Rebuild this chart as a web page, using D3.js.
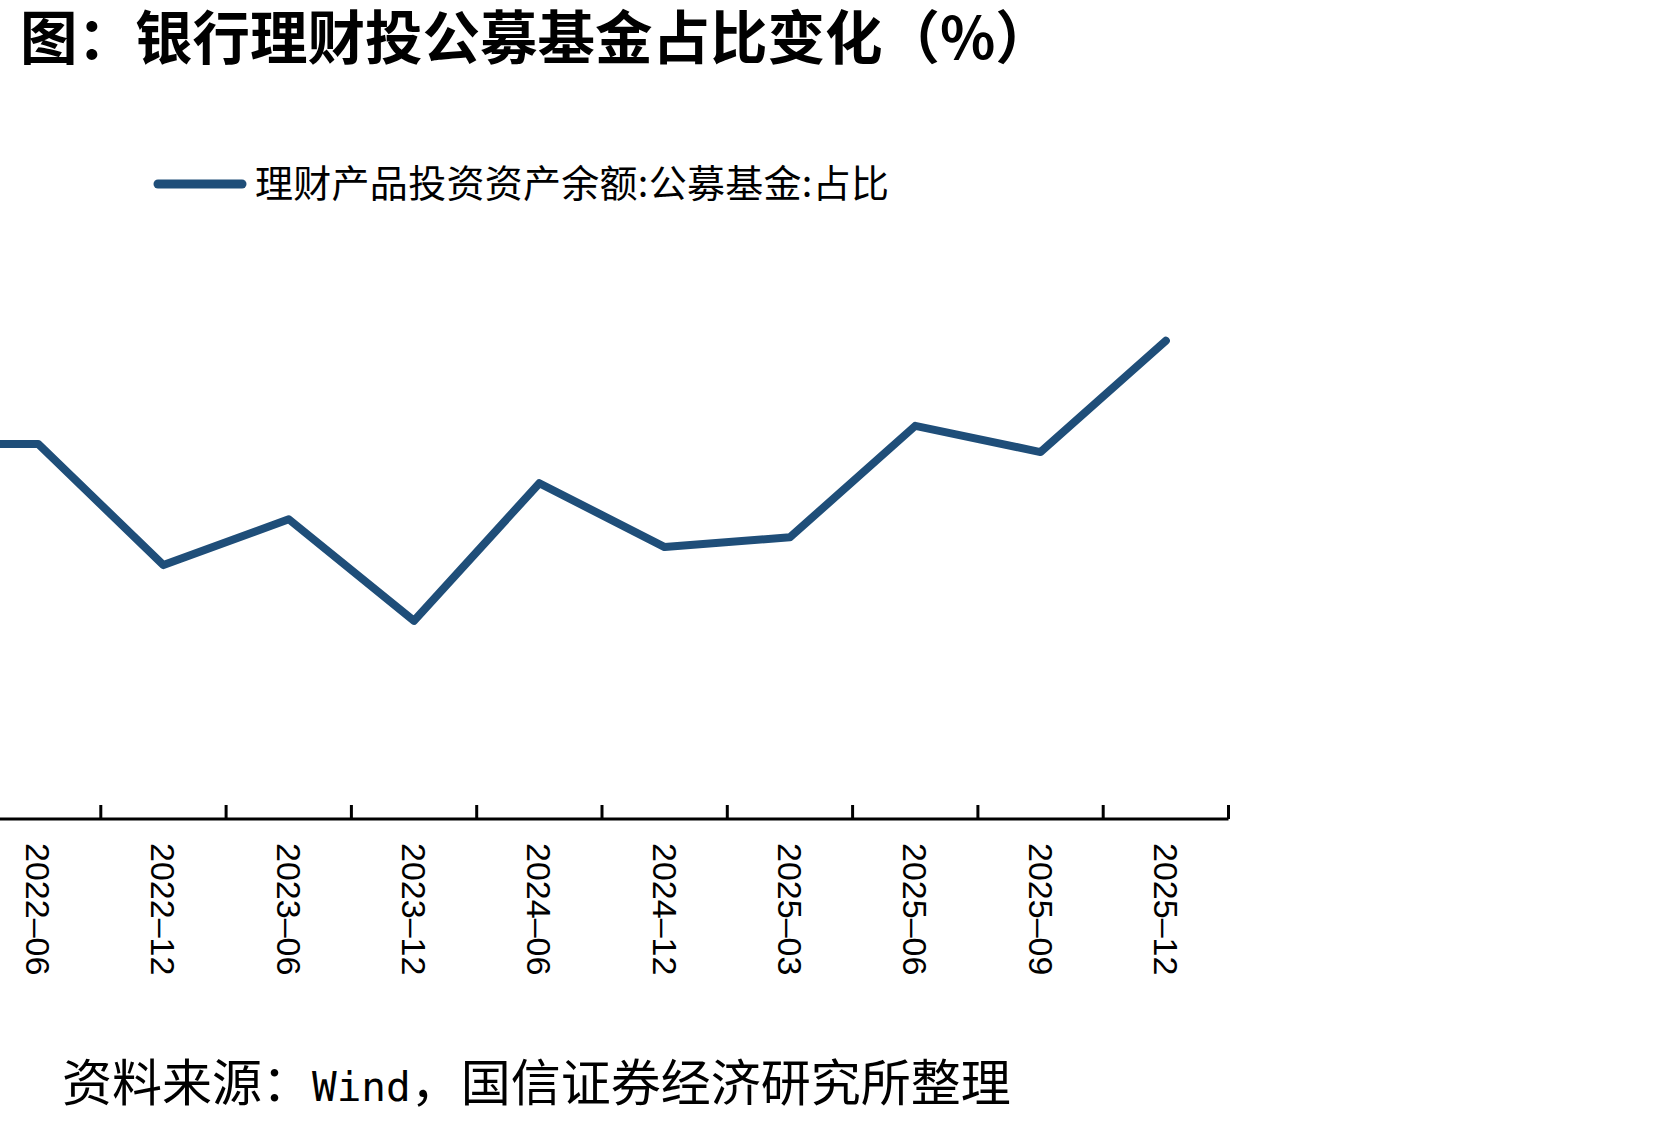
<!DOCTYPE html>
<html>
<head>
<meta charset="utf-8">
<script src="https://cdn.jsdelivr.net/npm/d3@7"></script>
<style>
  html, body { margin: 0; padding: 0; background: #fff; }
  svg { display: block; }
</style>
</head>
<body>
<div id="chart"></div>
<script>
// categories (the first one sits off the left edge, as in the source image)
const categories = ['2021-12', '2022-06', '2022-12', '2023-06', '2023-12', '2024-06',
  '2024-12', '2025-03', '2025-06', '2025-09', '2025-12'];
// 理财产品投资资产余额:公募基金:占比 (%)
const shareValues = [4.29, 4.29, 3.55, 3.83, 3.21, 4.05, 3.66, 3.72, 4.40, 4.24, 4.92];
const hiddenLabels = ['2021-12'];

const titleText = '图：银行理财投公募基金占比变化（%）';
const legendText = '理财产品投资资产余额:公募基金:占比';

const width = 1660;
const height = 1121;
const lineColor = '#1f4e79';

const svg = d3.select('#chart')
  .append('svg')
  .attr('width', width)
  .attr('height', height);

// title
svg.append('text')
  .attr('x', 20)
  .attr('y', 59)
  .style('font-family', '"Noto Sans CJK SC", sans-serif')
  .style('font-weight', 700)
  .style('font-size', '57.5px')
  .style('fill', '#000')
  .text(titleText);

// scales
const step = 125.3;
const axisRight = 1228.5;
const axisY = 819;

const x = d3.scaleBand()
  .domain(categories)
  .range([axisRight - categories.length * step, axisRight])
  .paddingInner(0)
  .paddingOuter(0);

const y = d3.scaleLinear()
  .domain([2, 5])
  .range([axisY, axisY - 3 * 163.8]);

const cx = (d) => x(d) + x.bandwidth() / 2;

// x axis line
svg.append('line')
  .attr('x1', 0)
  .attr('x2', axisRight)
  .attr('y1', axisY)
  .attr('y2', axisY)
  .style('stroke', '#000')
  .style('stroke-width', 3);

// tick marks between categories
const boundaries = categories.map((d) => x(d) + x.bandwidth()).filter((v) => v >= 0);
svg.selectAll('.tick-mark')
  .data(boundaries)
  .enter()
  .append('line')
  .attr('class', 'tick-mark')
  .attr('x1', (d) => d)
  .attr('x2', (d) => d)
  .attr('y1', axisY)
  .attr('y2', axisY - 14)
  .style('stroke', '#000')
  .style('stroke-width', 3);

// tick labels, rotated
svg.selectAll('.tick-label')
  .data(categories.filter((d) => !hiddenLabels.includes(d)))
  .enter()
  .append('text')
  .attr('class', 'tick-label')
  .attr('transform', (d) => `translate(${cx(d)},${axisY + 24}) rotate(90)`)
  .attr('dominant-baseline', 'central')
  .style('text-anchor', 'start')
  .style('font-family', '"Liberation Sans", Arial, sans-serif')
  .style('font-size', '34px')
  .style('fill', '#000')
  .text((d) => d.replace('-', '\u2013'));

// the series line
const line = d3.line()
  .x((d, i) => cx(categories[i]))
  .y((d) => y(d));

svg.append('path')
  .datum(shareValues)
  .attr('d', line)
  .style('fill', 'none')
  .style('stroke', lineColor)
  .style('stroke-width', 8)
  .style('stroke-linejoin', 'round')
  .style('stroke-linecap', 'round');

// legend
const legend = svg.append('g').attr('transform', 'translate(158,184)');
legend.append('line')
  .attr('x1', 0)
  .attr('x2', 84)
  .style('stroke', lineColor)
  .style('stroke-width', 9)
  .style('stroke-linecap', 'round');
legend.append('text')
  .attr('x', 97)
  .attr('y', 13)
  .attr('textLength', 634)
  .attr('lengthAdjust', 'spacing')
  .style('font-family', '"Noto Sans CJK SC", sans-serif')
  .style('font-size', '38px')
  .style('fill', '#000')
  .text(legendText);

// source note
const source = svg.append('text')
  .attr('x', 62)
  .attr('y', 1101)
  .style('font-family', '"Noto Sans CJK SC", sans-serif')
  .style('font-size', '50px')
  .style('fill', '#000');
source.append('tspan').text('资料来源：');
source.append('tspan')
  .style('font-family', '"DejaVu Sans Mono", monospace')
  .style('font-size', '41px')
  .text('Wind');
source.append('tspan').text('，国信证券经济研究所整理');
</script>
</body>
</html>
